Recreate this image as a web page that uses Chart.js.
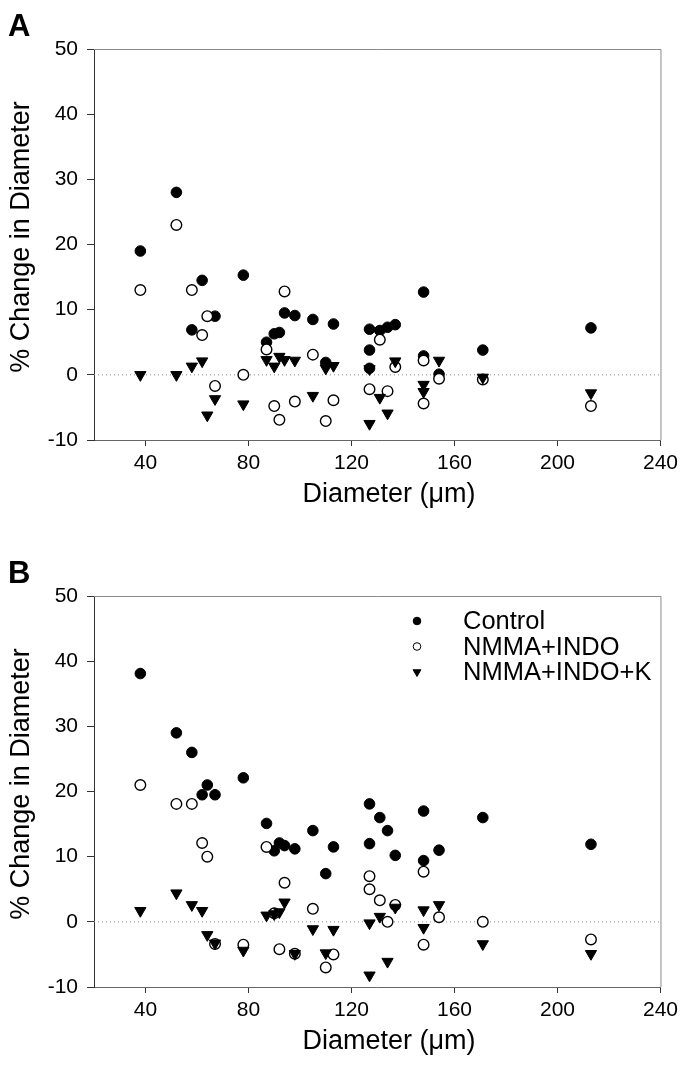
<!DOCTYPE html>
<html>
<head>
<meta charset="utf-8">
<script src="https://cdn.jsdelivr.net/npm/chart.js@4.4.0/dist/chart.umd.min.js"></script>
<style>
    html, body { margin: 0; padding: 0; background: #fff; }
    #wrap { position: relative; width: 683px; height: 1083px; }
    canvas { position: absolute; left: 0; }
    #panelA { top: 0; }
    #panelB { top: 547px; }
</style>
</head>
<body>
<div id="wrap">
    <canvas id="panelA" width="683" height="547"></canvas>
    <canvas id="panelB" width="683" height="536"></canvas>
</div>
<script>
// vessel diameters (um), shared by both panels; null = no visible point
const diameters = [38, 52, 58, 62, 64, 67, 78, 87, 90, 92, 94, 98, 105, 110, 113, 127, 127, 127, 131, 134, 137, 148, 148, 154, 171, 213];

// panel A
const controlA = [19.0, 28.0, 6.9, 14.5, null, 9.0, 15.3, 5.0, 6.3, 6.5, 9.5, 9.1, 8.5, 1.9, 7.8, 7.0, 3.8, 1.0, 6.8, 7.3, 7.7, 12.7, 2.9, 0.1, 3.8, 7.2];
const nmmaIndoA = [13.0, 23.0, 13.0, 6.1, 9.0, -1.7, 0.0, 3.9, -4.8, -6.9, 12.8, -4.1, 3.1, -7.1, -3.9, -2.2, null, null, 5.4, -2.5, 1.2, 2.2, -4.4, -0.6, -0.7, -4.8];
const nmmaIndoKA = [0.0, 0.0, 1.3, 2.1, -6.2, -3.7, -4.5, 2.3, 1.3, 2.8, 2.3, 2.2, -3.2, 1.0, 1.4, -7.5, 0.9, null, -3.5, -5.9, 2.1, -1.5, -2.6, 2.2, -0.4, -2.8];

// panel B
const controlB = [38.1, 29.0, 26.0, 19.5, 21.0, 19.5, 22.1, 15.1, 10.9, 12.1, 11.7, 11.2, 14.0, 7.4, 11.5, 18.1, 12.0, null, 16.0, 14.0, 10.2, 17.0, 9.4, 11.0, 16.0, 11.9];
const nmmaIndoB = [21.0, 18.1, 18.1, 12.1, 10.0, -3.4, -3.5, 11.5, 1.3, -4.2, 6.0, -4.9, 2.0, -7.0, -5.0, 7.0, 5.0, null, 3.3, 0.0, 2.6, 7.7, -3.5, 0.7, 0.0, -2.7];
const nmmaIndoKB = [1.7, 4.4, 2.6, 1.7, -2.0, -3.3, -4.4, 1.0, 1.2, 1.5, 3.0, -4.9, -1.1, -4.8, -1.2, -8.2, -0.2, null, 0.8, -6.1, 2.2, 1.8, -0.9, 2.6, -3.4, -4.9];

const seriesNames = ['Control', 'NMMA+INDO', 'NMMA+INDO+K'];
const xTicks = [40, 80, 120, 160, 200, 240];
const xRange = [20, 240];
const yRange = [-10, 50];
const xTitle = 'Diameter (\u03bcm)';
const yTitle = '% Change in Diameter';

const FONT = '"Liberation Sans", Arial, Helvetica, sans-serif';

function toPoints(values) {
    return diameters.map((d, i) => ({ x: d, y: values[i] })).filter(p => p.y !== null);
}

const markerStyles = [
    { pointStyle: 'circle', pointRadius: 5.3, pointRotation: 0, backgroundColor: '#000', borderColor: '#000', pointBorderWidth: 1 },
    { pointStyle: 'circle', pointRadius: 5.3, pointRotation: 0, backgroundColor: '#fff', borderColor: '#000', pointBorderWidth: 1.4 },
    { pointStyle: 'triangle', pointRadius: 6.5, pointRotation: 180, backgroundColor: '#000', borderColor: '#000', pointBorderWidth: 1 }
];

const decorations = {
    id: 'decorations',
    afterDraw(chart, args, opts) {
        const { ctx, chartArea: a } = chart;
        ctx.save();
        // top and right frame
        ctx.strokeStyle = '#8a8a8a';
        ctx.lineWidth = 1;
        ctx.beginPath();
        ctx.moveTo(a.left, a.top + 0.5);
        ctx.lineTo(a.right + 0.5, a.top + 0.5);
        ctx.lineTo(a.right + 0.5, a.bottom);
        ctx.stroke();

        ctx.fillStyle = '#000';
        ctx.font = 'bold 31px ' + FONT;
        ctx.textAlign = 'left';
        ctx.textBaseline = 'alphabetic';
        ctx.fillText(opts.letter, 8, 36);

        ctx.font = '27px ' + FONT;
        ctx.textAlign = 'center';
        ctx.textBaseline = 'middle';
        ctx.fillText(xTitle, 389, a.bottom + 55);
        ctx.save();
        ctx.translate(22, a.top + 188);
        ctx.rotate(-Math.PI / 2);
        ctx.fillText(yTitle, 0, 0);
        ctx.restore();

        if (opts.legend) {
            ctx.font = '25.5px ' + FONT;
            ctx.textAlign = 'left';
            seriesNames.forEach((name, i) => {
                const y = a.top + 25 + i * 25.5;
                const m = markerStyles[i];
                ctx.fillStyle = m.backgroundColor;
                ctx.strokeStyle = m.borderColor;
                ctx.lineWidth = 1;
                Chart.helpers.drawPoint(ctx, {
                    pointStyle: m.pointStyle,
                    rotation: m.pointRotation,
                    radius: m.pointStyle === 'triangle' ? 4.5 : 3.8,
                    borderWidth: 1
                }, 417, y);
                ctx.fillStyle = '#000';
                ctx.fillText(name, 463, y + 1);
            });
        }
        ctx.restore();
    }
};

function makeChart(canvasId, values, letter, legend, xAxisHeight) {
    const datasets = values.map((v, i) => Object.assign({
        label: seriesNames[i],
        data: toPoints(v),
        order: 3 - i
    }, markerStyles[i]));
    datasets.push({
        type: 'line',
        label: 'zero',
        data: [{ x: xRange[0], y: 0 }, { x: xRange[1], y: 0 }],
        borderColor: '#8a8a8a',
        borderWidth: 1,
        borderDash: [1, 3],
        pointRadius: 0,
        order: 10
    });

    return new Chart(document.getElementById(canvasId), {
        type: 'scatter',
        data: { datasets },
        options: {
            responsive: false,
            devicePixelRatio: 1,
            animation: false,
            layout: { padding: { left: 0, right: 20, top: 49, bottom: 0 } },
            plugins: {
                legend: { display: false },
                tooltip: { enabled: false },
                decorations: { letter, legend }
            },
            scales: {
                x: {
                    type: 'linear',
                    min: xRange[0],
                    max: xRange[1],
                    afterBuildTicks: s => { s.ticks = xTicks.map(v => ({ value: v })); },
                    afterFit: s => { s.height = xAxisHeight; },
                    grid: { drawOnChartArea: false, drawTicks: true, tickLength: 6, color: '#333' },
                    border: { display: true, color: '#666', width: 1 },
                    ticks: { color: '#000', font: { family: FONT, size: 21 }, padding: 5, maxRotation: 0 }
                },
                y: {
                    min: yRange[0],
                    max: yRange[1],
                    afterFit: s => { s.width = 94; },
                    grid: { drawOnChartArea: false, drawTicks: true, tickLength: 7, color: '#333' },
                    border: { display: true, color: '#333', width: 1 },
                    ticks: { stepSize: 10, color: '#000', font: { family: FONT, size: 21 }, padding: 9 }
                }
            }
        },
        plugins: [decorations]
    });
}

makeChart('panelA', [controlA, nmmaIndoA, nmmaIndoKA], 'A', false, 547 - 440);
makeChart('panelB', [controlB, nmmaIndoB, nmmaIndoKB], 'B', true, 536 - 440);
</script>
</body>
</html>
